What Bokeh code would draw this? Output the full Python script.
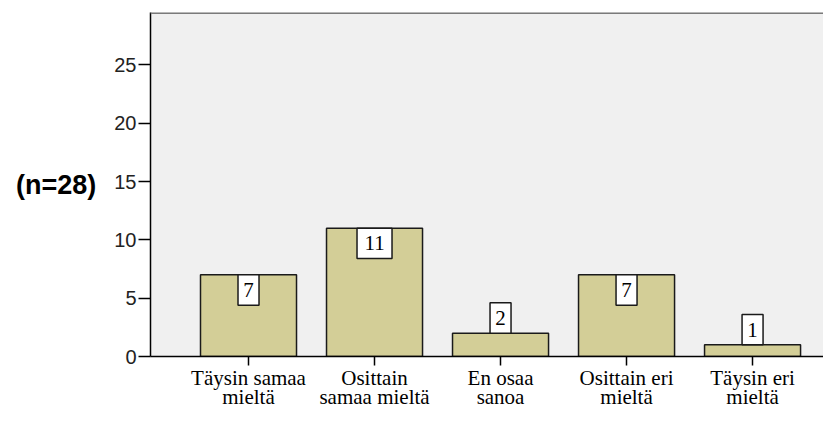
from bokeh.plotting import figure
from bokeh.models import ColumnDataSource, Range1d, FixedTicker, Span
from bokeh.embed import file_html
from bokeh.resources import INLINE
from bokeh.core.properties import value

# ---- data ----
categories = ["Täysin samaa\nmieltä", "Osittain\nsamaa mieltä", "En osaa\nsanoa",
              "Osittain eri\nmieltä", "Täysin eri\nmieltä"]
counts = [7, 11, 2, 7, 1]
y_ticks = [0, 5, 10, 15, 20, 25]
n_label = "(n=28)"

# ---- style constants ----
Y_MAX = 29.5
BOX_H = 2.6           # value-box height in data units (~31 px)
BAR_W = 0.762
BAR_FILL = "#d3ce97"

idx = list(range(len(categories)))
val_text = [str(c) for c in counts]
box_y = [c - BOX_H / 2 if c >= BOX_H else c + BOX_H / 2 for c in counts]
box_w = [7 + 14 * len(t) for t in val_text]

bars = ColumnDataSource(dict(x=idx, top=counts))
boxes = ColumnDataSource(dict(x=idx, y=box_y, w=box_w, t=val_text))

p = figure(width=823, height=412, output_backend="svg", toolbar_location=None,
           x_range=Range1d(-0.7778, 4.563), y_range=Range1d(0, Y_MAX),
           min_border_left=150, min_border_right=0, min_border_top=12,
           min_border_bottom=48)
p.background_fill_color = "#f0f0f0"
p.border_fill_color = "white"
p.outline_line_color = None
p.grid.visible = False

p.vbar(x="x", top="top", width=BAR_W, source=bars, fill_color=BAR_FILL,
       line_color="#1a1a1a", line_width=1.5)

p.rect(x="x", y="y", width="w", width_units="screen", height=BOX_H, source=boxes,
       fill_color="white", line_color="#1a1a1a", line_width=1.5)
p.text(x="x", y="y", text="t", source=boxes, text_align="center",
       text_baseline="middle", text_font=value("Liberation Serif"),
       text_font_size="21px", text_color="black")

p.add_layout(Span(location=Y_MAX, dimension="width", line_color="#7a7a7a",
                  line_width=3))

xa = p.xaxis[0]
xa.ticker = FixedTicker(ticks=idx)
xa.major_label_overrides = dict(zip(idx, categories))
xa.major_label_text_font = "Liberation Serif"
xa.major_label_text_font_size = "21px"
xa.major_label_text_line_height = 0.82
xa.major_label_text_color = "black"
xa.major_label_standoff = 0
xa.major_tick_out = 9
xa.major_tick_in = 0
xa.minor_tick_line_color = None
xa.axis_line_color = "black"
xa.axis_line_width = 1.5
xa.major_tick_line_color = "black"
xa.major_tick_line_width = 1.5

ya = p.yaxis[0]
ya.ticker = FixedTicker(ticks=y_ticks)
ya.major_tick_out = 12
ya.major_tick_in = 0
ya.minor_tick_line_color = None
ya.axis_line_color = "black"
ya.axis_line_width = 1.5
ya.major_tick_line_color = "black"
ya.major_tick_line_width = 1.5
ya.major_label_standoff = 2
ya.major_label_text_font = "Liberation Sans"
ya.major_label_text_font_size = "20px"
ya.major_label_text_color = "#222222"
ya.axis_label = n_label
ya.axis_label_orientation = "horizontal"
ya.axis_label_standoff = 15
ya.axis_label_text_font = "Liberation Sans"
ya.axis_label_text_font_style = "bold"
ya.axis_label_text_font_size = "27px"
ya.axis_label_text_color = "black"

open("out.html", "w").write(file_html(p, INLINE))
